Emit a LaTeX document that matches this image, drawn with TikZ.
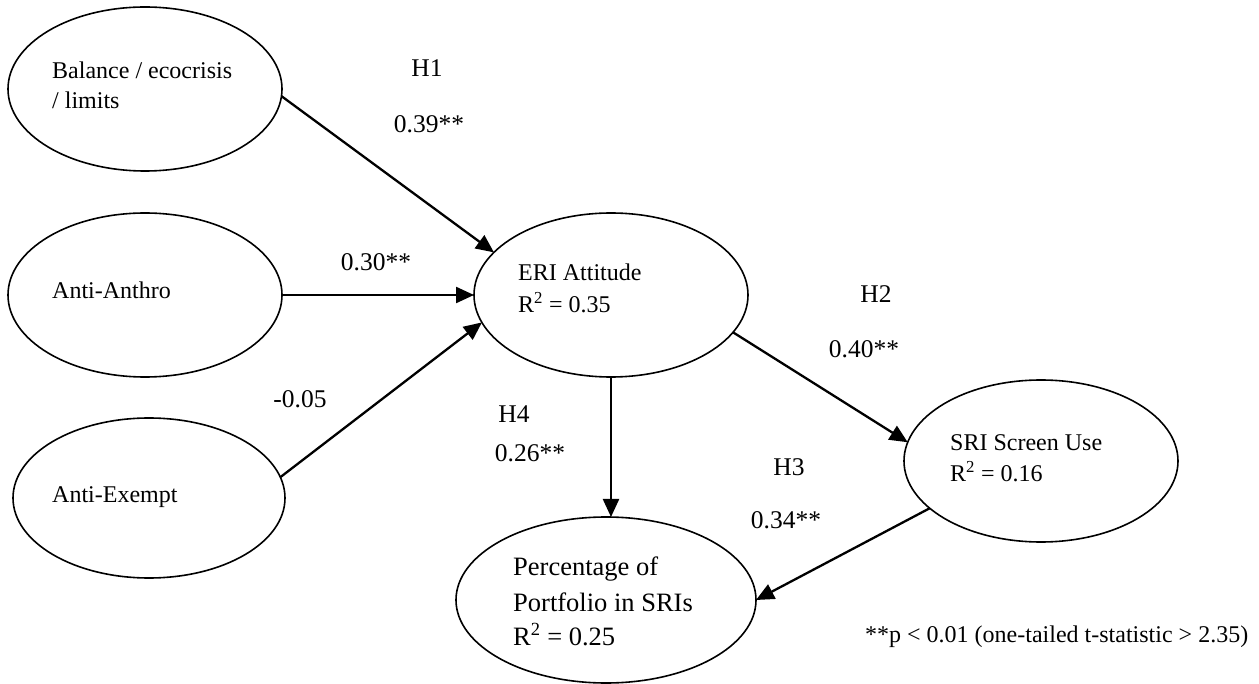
\documentclass[tikz,border=0pt]{standalone}
\usepackage{fontspec}
\setmainfont{Liberation Serif}
\usetikzlibrary{shapes.geometric,arrows.meta}
\begin{document}
\begin{tikzpicture}[x=1pt,y=-1pt,
  latent/.style={draw,ellipse,line width=1.6pt,inner sep=0pt,outer sep=0pt},
  ntext/.style={anchor=base west,inner sep=0pt,font=\fontsize{24}{28}\selectfont},
  ptext/.style={anchor=base west,inner sep=0pt,font=\fontsize{26.5}{30}\selectfont},
  lab/.style={anchor=base,inner sep=0pt,font=\fontsize{25.5}{29}\selectfont},
  note/.style={anchor=base west,inner sep=0pt,font=\fontsize{24}{28}\selectfont},
  path/.style={line width=2.3pt,-{Triangle[length=18pt,width=16pt]}}]
\useasboundingbox (0,0) rectangle (1259,684);

% latent variables
\node[latent,minimum width=274pt,minimum height=164pt] (bal) at (145,89) {};
\node[latent,minimum width=274pt,minimum height=164pt] (aa) at (145,295) {};
\node[latent,minimum width=272pt,minimum height=160pt] (ae) at (149,498) {};
\node[latent,minimum width=274pt,minimum height=164pt] (eri) at (611,295) {};
\node[latent,minimum width=274pt,minimum height=162pt] (sri) at (1041,461) {};
\node[latent,minimum width=300pt,minimum height=166pt] (perc) at (606,600) {};

% texts inside
\node[ntext] (t1a) at (52,79) {Balance / ecocrisis};
\node[ntext] (t1b) at (52,109) {/ limits};
\node[ntext] (t2) at (52,299) {Anti-Anthro};
\node[ntext] (t3) at (52,502) {Anti-Exempt};
\node[ntext] (t4a) at (518,281) {ERI Attitude};
\node[ntext] (t4b) at (518,313) {R\textsuperscript{2} = 0.35};
\node[ntext] (t5a) at (950,451) {SRI Screen Use};
\node[ntext] (t5b) at (950,482) {R\textsuperscript{2} = 0.16};
\node[ptext] (t6a) at (513,575) {Percentage of};
\node[ptext] (t6b) at (513,611) {Portfolio in SRIs};
\node[ptext] (t6c) at (513,645) {R\textsuperscript{2} = 0.25};

% paths
\draw[path] (bal.-3) -- (eri.160);
\draw[path] (aa.east) -- (eri.west);
\draw[path] (ae.9) -- (eri.192);
\draw[path] (eri.-17) -- (sri.172);
\draw[path] (eri.south) -- (eri.south |- perc.north);
\draw[path] (sri.203) -- (perc.east);

% labels
\node[lab] (h1) at (427,77) {H1};
\node[lab] (c1) at (429,133) {0.39**};
\node[lab] (c2) at (376,271) {0.30**};
\node[lab] (c3) at (300,408) {-0.05};
\node[lab] (h4) at (514,423) {H4};
\node[lab] (c4) at (530,462) {0.26**};
\node[lab] (h2) at (876,303) {H2};
\node[lab] (c5) at (864,358) {0.40**};
\node[lab] (h3) at (789,476) {H3};
\node[lab] (c6) at (786,528) {0.34**};

\node[note] (fn) at (865,642) {**p < 0.01 (one-tailed t-statistic > 2.35)};
\end{tikzpicture}
\end{document}
